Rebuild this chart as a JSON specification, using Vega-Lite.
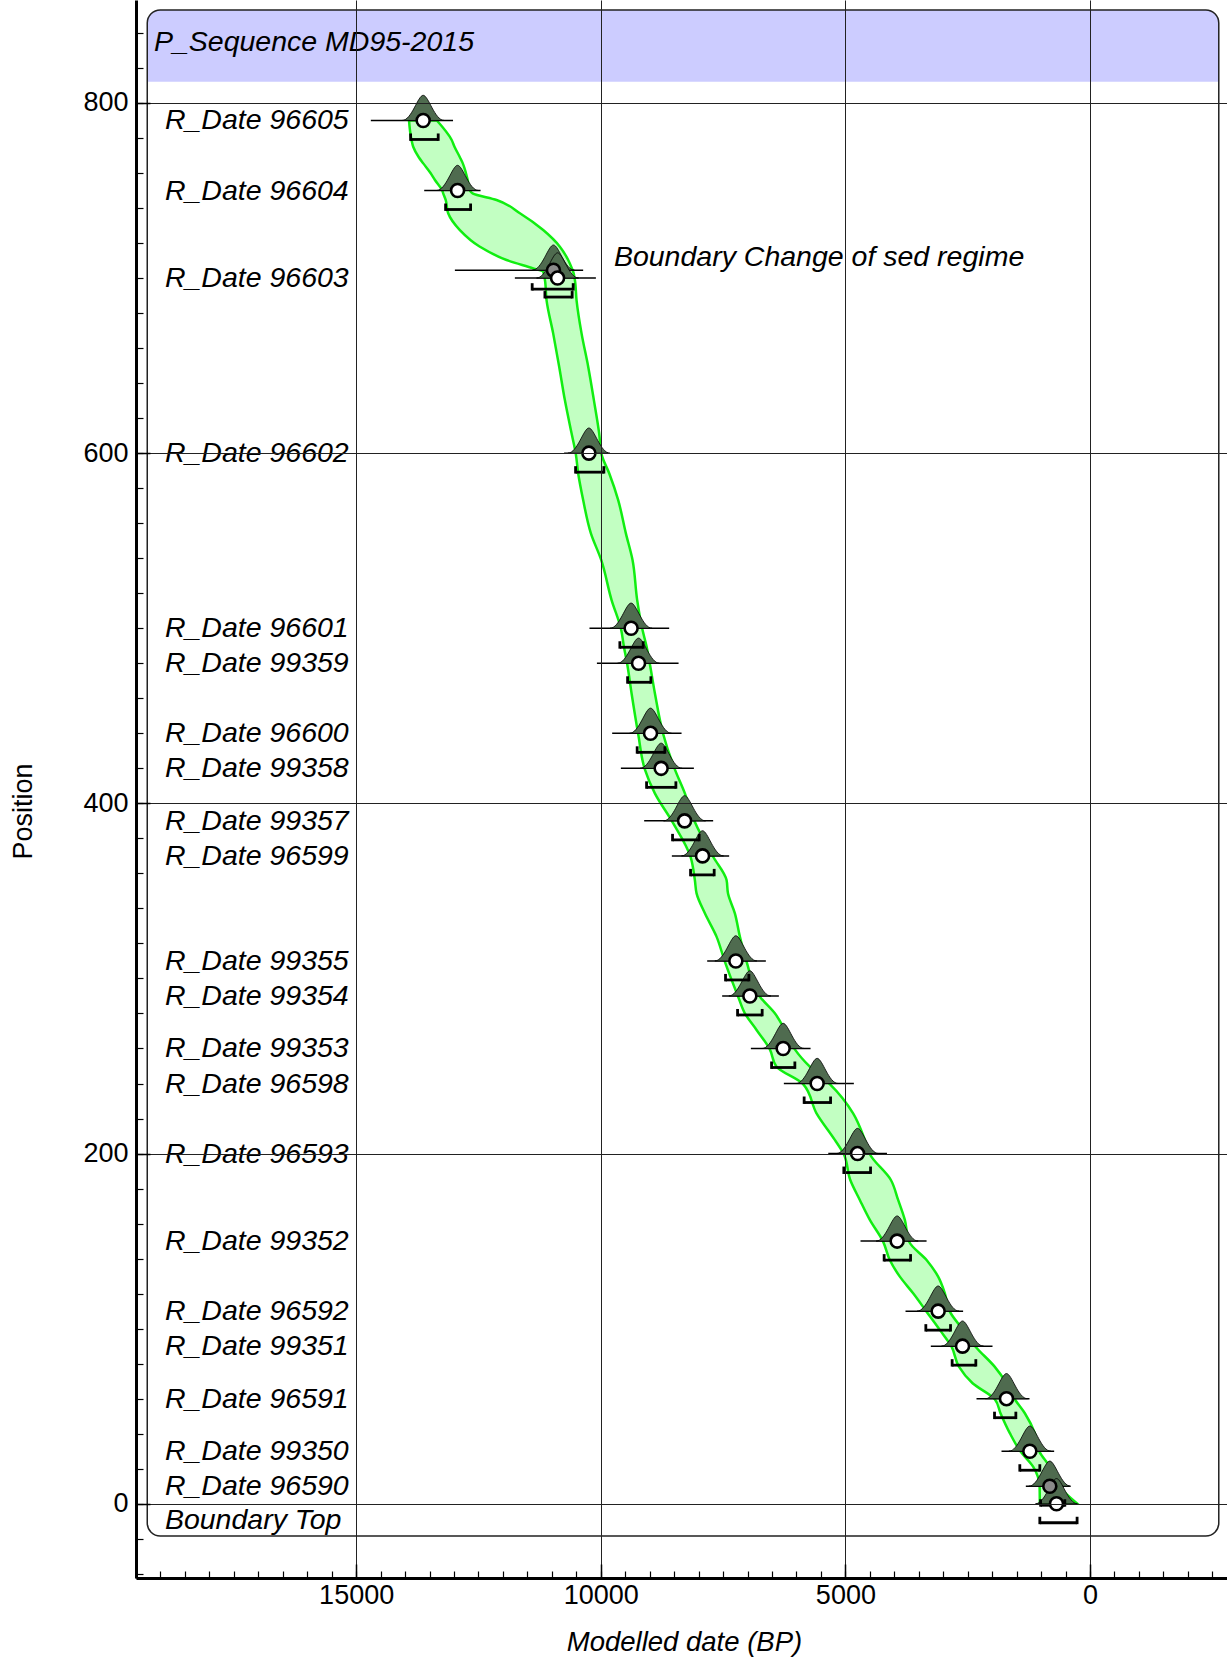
{
  "$schema": "https://vega.github.io/schema/vega-lite/v6.json",
  "width": 1091,
  "height": 1578,
  "autosize": {"type": "none"},
  "padding": {"left": 136, "top": 0, "right": 0, "bottom": 85},
  "background": "white",
  "config": {"view": {"stroke": null}, "font": "Liberation Sans"},
  "datasets": {
    "sequence": [
      {"name": "P_Sequence MD95-2015", "left": 19270, "right": -2632, "bottom": -18.4, "top": 853.1, "headerBottom": 812.1}
    ],
    "band": [
      {"depth": 0, "older": 1026, "younger": 260},
      {"depth": 9.8, "older": 1030, "younger": 630},
      {"depth": 21.2, "older": 1163, "younger": 822},
      {"depth": 29.8, "older": 1420, "younger": 1035},
      {"depth": 40.3, "older": 1639, "younger": 1128},
      {"depth": 51.7, "older": 1830, "younger": 1332},
      {"depth": 59.7, "older": 1946, "younger": 1537},
      {"depth": 68.8, "older": 2400, "younger": 1707},
      {"depth": 78.3, "older": 2680, "younger": 1950},
      {"depth": 89.7, "older": 2830, "younger": 2340},
      {"depth": 99.3, "older": 3070, "younger": 2593},
      {"depth": 109.7, "older": 3341, "younger": 2865},
      {"depth": 120.2, "older": 3615, "younger": 2967},
      {"depth": 129.7, "older": 3887, "younger": 3104},
      {"depth": 139.2, "older": 4092, "younger": 3341},
      {"depth": 149.7, "older": 4229, "younger": 3697},
      {"depth": 162.1, "older": 4500, "younger": 3785},
      {"depth": 173.5, "older": 4705, "younger": 3922},
      {"depth": 184.9, "older": 4900, "younger": 4070},
      {"depth": 199.6, "older": 5032, "younger": 4500},
      {"depth": 207.8, "older": 5216, "younger": 4602},
      {"depth": 223.0, "older": 5590, "younger": 4842},
      {"depth": 239.7, "older": 5864, "younger": 5318},
      {"depth": 249.6, "older": 6407, "younger": 5727},
      {"depth": 259.5, "older": 6544, "younger": 6033},
      {"depth": 270.6, "older": 6816, "younger": 6237},
      {"depth": 280.1, "older": 7055, "younger": 6442},
      {"depth": 289.6, "older": 7192, "younger": 6748},
      {"depth": 309.6, "older": 7464, "younger": 7020},
      {"depth": 323.9, "older": 7634, "younger": 7157},
      {"depth": 337.2, "older": 7872, "younger": 7259},
      {"depth": 348.6, "older": 8042, "younger": 7400},
      {"depth": 356.2, "older": 8077, "younger": 7429},
      {"depth": 369.5, "older": 8165, "younger": 7703},
      {"depth": 389.3, "older": 8533, "younger": 8077},
      {"depth": 405.7, "older": 8894, "younger": 8281},
      {"depth": 419.4, "older": 9099, "younger": 8486},
      {"depth": 439.6, "older": 9235, "younger": 8725},
      {"depth": 462.9, "older": 9371, "younger": 8894},
      {"depth": 479.6, "older": 9460, "younger": 8997},
      {"depth": 489.6, "older": 9528, "younger": 9064},
      {"depth": 499.4, "older": 9585, "younger": 9150},
      {"depth": 516.1, "older": 9779, "younger": 9256},
      {"depth": 538.9, "older": 9990, "younger": 9350},
      {"depth": 554.2, "older": 10202, "younger": 9487},
      {"depth": 573.2, "older": 10360, "younger": 9644},
      {"depth": 588.5, "older": 10462, "younger": 9828},
      {"depth": 599.3, "older": 10509, "younger": 9984},
      {"depth": 611.3, "older": 10597, "younger": 10033},
      {"depth": 630.3, "older": 10734, "younger": 10141},
      {"depth": 649.4, "older": 10850, "younger": 10257},
      {"depth": 668.4, "older": 10973, "younger": 10393},
      {"depth": 687.3, "older": 11108, "younger": 10495},
      {"depth": 699.0, "older": 11142, "younger": 10530},
      {"depth": 703.6, "older": 11177, "younger": 10564},
      {"depth": 705.5, "older": 11381, "younger": 10590},
      {"depth": 710.3, "older": 11926, "younger": 10666},
      {"depth": 717.9, "older": 12471, "younger": 10836},
      {"depth": 727.4, "older": 12880, "younger": 11177},
      {"depth": 737.0, "older": 13119, "younger": 11653},
      {"depth": 744.6, "older": 13170, "younger": 12130},
      {"depth": 748.4, "older": 13221, "younger": 12620},
      {"depth": 750.0, "older": 13240, "younger": 12675},
      {"depth": 756.0, "older": 13390, "younger": 12720},
      {"depth": 760.0, "older": 13480, "younger": 12757},
      {"depth": 765.5, "older": 13629, "younger": 12820},
      {"depth": 769.0, "older": 13720, "younger": 12880},
      {"depth": 775.0, "older": 13834, "younger": 12990},
      {"depth": 779.0, "older": 13870, "younger": 13050},
      {"depth": 790.0, "older": 13920, "younger": 13350}
    ],
    "dates": [
      {"name": "R_Date 96605", "depth": 790, "mean": 13630, "lo": 14700, "hi": 13020, "rlo": 13887, "rhi": 13323, "status": "ok"},
      {"name": "R_Date 96604", "depth": 750, "mean": 12927, "lo": 13609, "hi": 12457, "rlo": 13172, "rhi": 12661, "status": "ok"},
      {"name": "Boundary Change of sed regime", "depth": 704.5, "mean": 10967, "lo": 12982, "hi": 10360, "rlo": 11402, "rhi": 10564, "status": "grey"},
      {"name": "R_Date 96603", "depth": 700, "mean": 10883, "lo": 11756, "hi": 10100, "rlo": 11142, "rhi": 10585, "status": "ok"},
      {"name": "R_Date 96602", "depth": 600, "mean": 10243, "lo": 10750, "hi": 9850, "rlo": 10515, "rhi": 9937, "status": "ok"},
      {"name": "R_Date 96601", "depth": 500, "mean": 9380, "lo": 10231, "hi": 8602, "rlo": 9610, "rhi": 9133, "status": "ok"},
      {"name": "R_Date 99359", "depth": 480, "mean": 9228, "lo": 10079, "hi": 8410, "rlo": 9452, "rhi": 8976, "status": "ok"},
      {"name": "R_Date 96600", "depth": 440, "mean": 8983, "lo": 9767, "hi": 8349, "rlo": 9256, "rhi": 8690, "status": "ok"},
      {"name": "R_Date 99358", "depth": 420, "mean": 8766, "lo": 9589, "hi": 8097, "rlo": 9064, "rhi": 8465, "status": "ok"},
      {"name": "R_Date 99357", "depth": 390, "mean": 8287, "lo": 9113, "hi": 7703, "rlo": 8533, "rhi": 7989, "status": "ok"},
      {"name": "R_Date 96599", "depth": 370, "mean": 7920, "lo": 8547, "hi": 7376, "rlo": 8165, "rhi": 7682, "status": "ok"},
      {"name": "R_Date 99355", "depth": 310, "mean": 7239, "lo": 7825, "hi": 6626, "rlo": 7450, "rhi": 6973, "status": "ok"},
      {"name": "R_Date 99354", "depth": 290, "mean": 6953, "lo": 7519, "hi": 6360, "rlo": 7204, "rhi": 6701, "status": "ok"},
      {"name": "R_Date 99353", "depth": 260, "mean": 6272, "lo": 6932, "hi": 5712, "rlo": 6509, "rhi": 6033, "status": "ok"},
      {"name": "R_Date 96598", "depth": 240, "mean": 5577, "lo": 6258, "hi": 4827, "rlo": 5843, "rhi": 5303, "status": "ok"},
      {"name": "R_Date 96593", "depth": 200, "mean": 4752, "lo": 5350, "hi": 4150, "rlo": 5032, "rhi": 4486, "status": "ok"},
      {"name": "R_Date 99352", "depth": 150, "mean": 3942, "lo": 4691, "hi": 3341, "rlo": 4208, "rhi": 3668, "status": "ok"},
      {"name": "R_Date 96592", "depth": 110, "mean": 3104, "lo": 3771, "hi": 2594, "rlo": 3356, "rhi": 2851, "status": "ok"},
      {"name": "R_Date 99351", "depth": 90, "mean": 2606, "lo": 3254, "hi": 1993, "rlo": 2818, "rhi": 2334, "status": "ok"},
      {"name": "R_Date 96591", "depth": 60, "mean": 1707, "lo": 2320, "hi": 1237, "rlo": 1952, "rhi": 1516, "status": "ok"},
      {"name": "R_Date 99350", "depth": 30, "mean": 1230, "lo": 1809, "hi": 733, "rlo": 1435, "rhi": 1026, "status": "ok"},
      {"name": "R_Date 96590", "depth": 10, "mean": 822, "lo": 1312, "hi": 413, "rlo": 1010, "rhi": 515, "status": "grey"},
      {"name": "Boundary Top", "depth": 0, "mean": 685, "lo": null, "hi": null, "rlo": 1026, "rhi": 264, "status": "ok"}
    ],
    "labels": [
      {"text": "P_Sequence MD95-2015", "pos": 835.0, "at": 19133},
      {"text": "R_Date 96605", "pos": 790, "at": 18909},
      {"text": "R_Date 96604", "pos": 750, "at": 18909},
      {"text": "R_Date 96603", "pos": 700, "at": 18909},
      {"text": "R_Date 96602", "pos": 600, "at": 18909},
      {"text": "R_Date 96601", "pos": 500, "at": 18909},
      {"text": "R_Date 99359", "pos": 480, "at": 18909},
      {"text": "R_Date 96600", "pos": 440, "at": 18909},
      {"text": "R_Date 99358", "pos": 420, "at": 18909},
      {"text": "R_Date 99357", "pos": 390, "at": 18909},
      {"text": "R_Date 96599", "pos": 370, "at": 18909},
      {"text": "R_Date 99355", "pos": 310, "at": 18909},
      {"text": "R_Date 99354", "pos": 290, "at": 18909},
      {"text": "R_Date 99353", "pos": 260, "at": 18909},
      {"text": "R_Date 96598", "pos": 240, "at": 18909},
      {"text": "R_Date 96593", "pos": 200, "at": 18909},
      {"text": "R_Date 99352", "pos": 150, "at": 18909},
      {"text": "R_Date 96592", "pos": 110, "at": 18909},
      {"text": "R_Date 99351", "pos": 90, "at": 18909},
      {"text": "R_Date 96591", "pos": 60, "at": 18909},
      {"text": "R_Date 99350", "pos": 30, "at": 18909},
      {"text": "R_Date 96590", "pos": 10, "at": 18909},
      {"text": "Boundary Top", "pos": -9.1, "at": 18909},
      {"text": "Boundary Change of sed regime", "pos": 712.2, "at": 9732}
    ]
  },
  "layer": [
    {
      "data": {"name": "sequence"},
      "mark": {"type": "rect", "fill": "#ccccff", "cornerRadiusTopLeft": 13, "cornerRadiusTopRight": 13},
      "encoding": {
        "x": {"field": "left", "type": "quantitative", "scale": {"domain": [19500, -2800], "nice": false, "zero": false}, "axis": null},
        "x2": {"field": "right"},
        "y": {"field": "headerBottom", "type": "quantitative", "scale": {"domain": [-42.4, 858.8], "nice": false, "zero": false}, "axis": null},
        "y2": {"field": "top"}
      }
    },
    {
      "data": {"name": "sequence"},
      "mark": {"type": "rect", "fill": null, "fillOpacity": 0, "stroke": "#222222", "strokeWidth": 1.5, "cornerRadius": 13},
      "encoding": {
        "x": {"field": "left", "type": "quantitative", "axis": null},
        "x2": {"field": "right"},
        "y": {"field": "bottom", "type": "quantitative", "axis": null},
        "y2": {"field": "top"}
      }
    },
    {
      "data": {"name": "band"},
      "mark": {"type": "area", "orient": "horizontal", "interpolate": "monotone", "fill": "#c2ffc2", "stroke": "#11ee11", "strokeWidth": 2.5, "opacity": 1},
      "encoding": {
        "y": {"field": "depth", "type": "quantitative",
          "axis": {"orient": "left", "title": null, "labels": false, "grid": false, "domain": false, "ticks": true, "tickSize": -7, "tickWidth": 1.2, "tickColor": "black", "zindex": 1,
            "values": [-40,-20,0,20,40,60,80,100,120,140,160,180,200,220,240,260,280,300,320,340,360,380,400,420,440,460,480,500,520,540,560,580,600,620,640,660,680,700,720,740,760,780,800,820,840]}},
        "x": {"field": "older", "type": "quantitative",
          "axis": {"orient": "bottom", "title": null, "labels": false, "grid": false, "domain": false, "ticks": true, "tickSize": -7, "tickWidth": 1.2, "tickColor": "black", "zindex": 1,
            "values": [-2500,-2000,-1500,-1000,-500,0,500,1000,1500,2000,2500,3000,3500,4000,4500,5000,5500,6000,6500,7000,7500,8000,8500,9000,9500,10000,10500,11000,11500,12000,12500,13000,13500,14000,14500,15000,15500,16000,16500,17000,17500,18000,18500,19000,19500]}},
        "x2": {"field": "younger"}
      }
    },
    {
      "data": {"name": "dates"},
      "transform": [{"filter": "datum.lo != null"}],
      "mark": {"type": "rule", "color": "black", "strokeWidth": 1.5},
      "encoding": {
        "x": {"field": "lo", "type": "quantitative", "axis": null},
        "x2": {"field": "hi"},
        "y": {"field": "depth", "type": "quantitative", "axis": null}
      }
    },
    {
      "data": {"name": "dates"},
      "mark": {"type": "point", "shape": "M-1,0C-0.55,0,-0.25,-1.2,0,-1.2C0.25,-1.2,0.55,0,1,0Z", "size": 1764, "filled": true, "fill": "#4f6b4f", "stroke": "black", "strokeWidth": 0.8, "opacity": 1},
      "encoding": {
        "x": {"field": "mean", "type": "quantitative", "axis": null},
        "y": {"field": "depth", "type": "quantitative", "axis": null}
      }
    },
    {
      "data": {"name": "dates"},
      "mark": {"type": "rule", "color": "black", "strokeWidth": 2.8, "yOffset": 19},
      "encoding": {
        "x": {"field": "rlo", "type": "quantitative", "axis": null},
        "x2": {"field": "rhi"},
        "y": {"field": "depth", "type": "quantitative", "axis": null}
      }
    },
    {
      "data": {"name": "dates"},
      "transform": [{"fold": ["rlo", "rhi"], "as": ["end", "edge"]}],
      "mark": {"type": "rule", "color": "black", "strokeWidth": 2.8, "yOffset": 13, "y2Offset": 20.4},
      "encoding": {
        "x": {"field": "edge", "type": "quantitative", "axis": null},
        "y": {"field": "depth", "type": "quantitative", "axis": null},
        "y2": {"field": "depth"}
      }
    },
    {
      "data": {"name": "dates"},
      "mark": {"type": "point", "shape": "circle", "size": 169, "filled": true, "stroke": "black", "strokeWidth": 2.6, "opacity": 1},
      "encoding": {
        "x": {"field": "mean", "type": "quantitative",
          "axis": {"orient": "bottom", "values": [0, 5000, 10000, 15000], "format": "d",
            "title": "Modelled date (BP)", "titleFont": "Liberation Sans", "titleFontSize": 27.5, "titleFontStyle": "italic", "titleFontWeight": "normal", "titleColor": "black",
            "titleX": 548, "titleY": 72, "titleAlign": "center", "titleBaseline": "alphabetic", "titleAnchor": null,
            "labelFont": "Liberation Sans", "labelFontSize": 27, "labelColor": "black", "labelPadding": 18, "labelFlush": false, "labelOverlap": false,
            "tickSize": -14, "tickWidth": 1.5, "tickColor": "black",
            "domain": true, "domainColor": "black", "domainWidth": 3,
            "grid": true, "gridColor": "#222222", "gridWidth": 1, "gridOpacity": 1, "zindex": 1}},
        "y": {"field": "depth", "type": "quantitative",
          "axis": {"orient": "left", "values": [0, 200, 400, 600, 800], "format": "d",
            "title": "Position", "titleFont": "Liberation Sans", "titleFontSize": 27, "titleFontWeight": "normal", "titleColor": "black",
            "titleAngle": -90, "titleX": -105, "titleY": 811, "titleAlign": "center", "titleBaseline": "alphabetic", "titleAnchor": null,
            "labelFont": "Liberation Sans", "labelFontSize": 27, "labelColor": "black", "labelPadding": 22, "labelFlush": false, "labelOverlap": false,
            "tickSize": -14, "tickWidth": 1.5, "tickColor": "black",
            "domain": true, "domainColor": "black", "domainWidth": 3,
            "grid": true, "gridColor": "#222222", "gridWidth": 1, "gridOpacity": 1, "zindex": 1}},
        "fill": {"field": "status", "type": "nominal", "scale": {"domain": ["ok", "grey"], "range": ["white", "#8a8a8a"]}, "legend": null}
      }
    },
    {
      "data": {"name": "labels"},
      "mark": {"type": "text", "align": "left", "baseline": "middle", "font": "Liberation Sans", "fontSize": 28.5, "fontStyle": "italic", "color": "black"},
      "encoding": {
        "x": {"field": "at", "type": "quantitative", "axis": null},
        "y": {"field": "pos", "type": "quantitative", "axis": null},
        "text": {"field": "text"}
      }
    }
  ],
  "resolve": {"axis": {"x": "independent", "y": "independent"}}
}
